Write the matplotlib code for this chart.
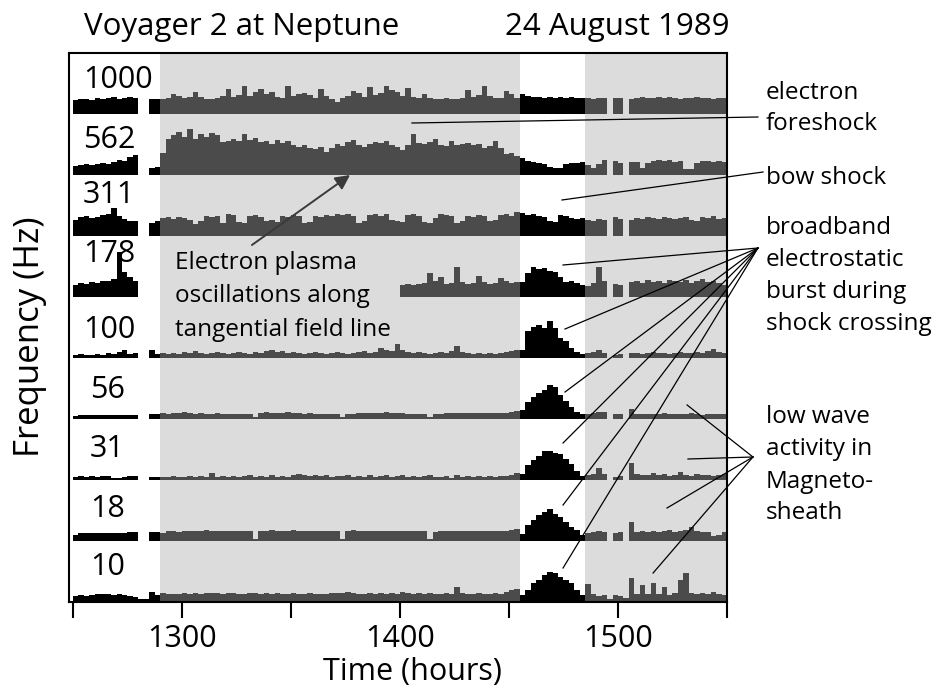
import numpy as np
import matplotlib
matplotlib.use("Agg")
from matplotlib import pyplot as plt

nan = np.nan

# time grid of the strips: 2.5 hour bins from 1250 to 1550
T_START = 1250.0
BIN_H = 2.5

# regions of the plot (hours)
SHADE_SPANS = [(1290, 1455), (1485, 1550)]

channel_labels = ["1000", "562", "311", "178", "100", "56", "31", "18", "10"]

# wave amplitude per bin for each channel (arbitrary units)
ch_1000 = [14, 15, 15, 14, 16, 15, 16, 17, 15, 16, 17, 16,
           nan, nan, 15, 15,
           15, 16, 20, 18, 16, 17, 22, 17, 15, 15,
           16, 18, 25, 17, 19, 28, 18, 22, 25, 20,
           22, 17, 16, 28, 18, 20, 21, 19, 16, 25,
           18, 15, 12, 16, 18, 23, 21, 17, 27, 19,
           21, 28, 24, 22, 18, 26, 17, 16, 20, 16,
           15, 15, 16, 15, 15, 16, 24, 17, 19, 28,
           18, 16, 16, 23, 20, 16,
           20, 18, 17, 17, 16, 17, 16, 17, 16, 17, 16, 16,
           16, 15, 16, 16, nan, 16, 16, nan,
           15, 16, 17, 16, 16, 17, 16, 17, 16, 15, 16, 16, 17, 16, 16, 15, 16, 16]

ch_562 = [9, 10, 11, 10, 11, 12, 11, 13, 15, 14, 18, 20,
          nan, nan, 7, 8,
          22, 36, 40, 43, 38, 46, 36, 41, 38, 42,
          40, 33, 34, 36, 34, 41, 35, 37, 33, 34,
          31, 35, 32, 34, 30, 28, 30, 27, 26, 28,
          23, 27, 31, 29, 33, 35, 30, 28, 31, 33,
          32, 34, 30, 28, 25, 30, 41, 32, 31, 33,
          36, 30, 29, 34, 30, 31, 32, 30, 31, 27,
          29, 34, 27, 21, 22, 19,
          17, 14, 13, 12, 11, 8, 7, 7, 11, 12, 12, 13,
          10, 7, 11, 15, nan, 14, 12, nan,
          13, 13, 7, 12, 14, 15, 14, 15, 13, 14, 6, 6, 12, 14, 14, 13, 14, 13]

ch_311 = [16, 19, 20, 18, 19, 21, 22, 28, 20, 17, 15, 15,
          nan, nan, 13, 15,
          18, 19, 17, 19, 18, 16, 12, 15, 20, 19,
          20, 13, 22, 21, 14, 13, 20, 21, 19, 15,
          16, 14, 20, 19, 21, 20, 13, 14, 20, 19,
          21, 20, 22, 21, 22, 20, 13, 15, 21, 22,
          20, 22, 16, 15, 14, 21, 22, 20, 14, 13,
          18, 22, 21, 20, 13, 15, 20, 19, 21, 20,
          15, 16, 21, 22, 20, 24,
          23, 21, 22, 20, 19, 15, 14, 21, 20, 18, 17, 18,
          16, 15, 17, 16, nan, 19, 17, nan,
          16, 18, 17, 19, 18, 17, 19, 18, 17, 18, 19, 16, 15, 19, 18, 20, 17, 18]

ch_178 = [12, 14, 13, 15, 14, 16, 16, 18, 45, 25, 20, 16,
          nan, nan, nan, nan] + [nan] * 44 + [
          12, 13, 12, 13, 14, 24, 16, 20, 13, 14,
          30, 15, 13, 14, 21, 15, 13, 14, 19, 16,
          14, 15,
          15, 24, 30, 28, 29, 26, 25, 20, 15, 16, 14, 12,
          11, 14, 30, 16, nan, 13, 12, nan,
          15, 16, 14, 17, 15, 16, 14, 17, 16, 15, 17, 14, 16, 18, 15, 16, 14, 12]

ch_100 = [3, 4, 3, 3, 4, 3, 5, 4, 6, 8, 4, 5,
          nan, nan, 8, 4,
          5, 4, 5, 4, 6, 5, 7, 5, 4, 5,
          6, 5, 4, 5, 6, 5, 4, 6, 5, 7,
          8, 6, 7, 5, 6, 5, 4, 5, 6, 5,
          4, 5, 6, 5, 4, 5, 6, 7, 5, 6,
          10, 8, 7, 14, 8, 6, 5, 6, 5, 4,
          5, 6, 5, 7, 12, 6, 5, 4, 5, 4,
          5, 4, 5, 6, 7, 8,
          8, 27, 31, 33, 30, 37, 30, 20, 17, 10, 6, 4,
          5, 6, 8, 5, nan, 3, 4, nan,
          5, 5, 4, 5, 6, 5, 5, 4, 5, 6, 5, 5, 6, 5, 7, 9, 6, 5]

ch_56 = [3, 4, 4, 4, 4, 4, 4, 4, 4, 4, 4, 4,
         nan, nan, 5, 5,
         6, 5, 6, 6, 7, 6, 5, 6, 5, 5,
         6, 5, 5, 5, 5, 5, 5, 2, 6, 7,
         6, 6, 6, 7, 6, 6, 5, 6, 5, 5,
         5, 5, 5, 2, 5, 5, 6, 6, 6, 6,
         6, 7, 6, 6, 6, 5, 5, 5, 5, 2,
         5, 5, 6, 6, 6, 6, 6, 6, 6, 6,
         6, 6, 6, 6, 7, 8,
         9, 17, 22, 26, 29, 34, 32, 24, 18, 12, 7, 5,
         5, 6, 7, 7, nan, 5, 5, nan,
         10, 5, 5, 5, 5, 5, 6, 5, 5, 5, 5, 6, 5, 4, 5, 5, 5, 5]

ch_31 = [3, 4, 3, 4, 3, 4, 4, 2, 2, 3, 4, 4,
         nan, nan, 3, 3,
         3, 3, 4, 3, 3, 4, 3, 4, 3, 7,
         3, 4, 3, 4, 3, 4, 5, 3, 4, 3,
         5, 3, 4, 3, 5, 6, 5, 4, 5, 4,
         5, 3, 4, 4, 5, 3, 4, 3, 5, 3,
         4, 5, 3, 4, 5, 3, 4, 3, 4, 5,
         3, 3, 4, 2, 5, 3, 4, 3, 4, 3,
         4, 3, 4, 4, 5, 7,
         6, 15, 20, 24, 29, 29, 27, 26, 21, 16, 9, 4,
         5, 6, 12, 6, nan, 3, 4, nan,
         17, 6, 5, 5, 7, 5, 6, 4, 5, 8, 5, 4, 6, 5, 5, 4, 5, 6]

ch_18 = [6, 8, 8, 8, 8, 8, 8, 8, 8, 8, 9, 9,
         nan, nan, 9, 9,
         8, 10, 10, 9, 10, 10, 10, 10, 11, 10,
         10, 10, 10, 10, 10, 10, 10, 2, 10, 10,
         11, 10, 10, 10, 11, 10, 10, 10, 10, 10,
         10, 10, 10, 2, 10, 11, 10, 10, 10, 10,
         10, 10, 10, 10, 10, 10, 10, 10, 10, 2,
         9, 10, 10, 10, 10, 10, 10, 10, 10, 10,
         10, 10, 10, 10, 11, 12,
         7, 16, 21, 26, 29, 32, 27, 24, 19, 14, 11, 6,
         8, 9, 10, 9, nan, 8, 9, nan,
         19, 9, 10, 9, 10, 9, 10, 11, 9, 10, 11, 14, 10, 9, 9, 5, 6, 9]

ch_10 = [6, 7, 6, 7, 8, 8, 8, 7, 8, 7, 6, 5,
         3, 3, 10, 7,
         9, 8, 8, 8, 9, 8, 9, 8, 9, 9,
         9, 8, 9, 9, 8, 8, 9, 9, 8, 9,
         8, 9, 8, 8, 9, 8, 8, 9, 8, 8,
         8, 9, 9, 9, 10, 9, 8, 8, 9, 8,
         9, 8, 9, 8, 10, 9, 8, 9, 8, 9,
         8, 8, 9, 8, 15, 9, 8, 8, 9, 8,
         8, 9, 8, 10, 12, 13,
         7, 12, 19, 22, 27, 30, 29, 25, 22, 19, 12, 7,
         18, 8, 6, 7, 3, 7, 6, 4,
         24, 8, 17, 8, 19, 8, 15, 7, 9, 22, 29, 9, 8, 9, 8, 10, 8, 7]

channels = [ch_1000, ch_562, ch_311, ch_178, ch_100, ch_56, ch_31, ch_18, ch_10]

# annotation leader lines (hours, strip units)
foreshock_line = [(1405.5, 479), (1564.2, 485)]
bowshock_line = [(1474.3, 402), (1566.5, 430)]
burst_hub = (1564.2, 354)
burst_ends = [(1474.8, 337), (1475.7, 273), (1475.7, 210),
              (1474.8, 159), (1474.8, 97), (1474.8, 34)]
sheath_hub = (1561.9, 145)
sheath_ends = [(1531.7, 197), (1532.1, 143), (1522.5, 94), (1516.1, 29)]

ROW_STEP = 61
LABEL_RAISE = [26, 27, 33, 35, 20, 21, 23, 24, 27]
GRAY_STRIP = "#4b4b4b"
SHADE = "#dcdcdc"

plt.rcParams["font.family"] = ["Open Sans", "DejaVu Sans"]

fig = plt.figure(figsize=(9.38, 6.94), dpi=100)
ax = fig.add_axes([69 / 938, 1 - 602 / 694, (727 - 69) / 938, (602 - 53) / 694])

for a, b in SHADE_SPANS:
    ax.axvspan(a, b, color=SHADE, lw=0, zorder=0)

n_bins = len(ch_1000)
edges = T_START + BIN_H * np.arange(n_bins + 1)
mids = edges[:-1] + BIN_H / 2
shaded = np.zeros(n_bins, dtype=bool)
for a, b in SHADE_SPANS:
    shaded |= (mids > a) & (mids < b)

n_ch = len(channels)
for k, (lbl, vals) in enumerate(zip(channel_labels, channels)):
    base = (n_ch - 1 - k) * ROW_STEP
    vals = np.asarray(vals, dtype=float)
    i = 0
    while i < n_bins:
        if np.isnan(vals[i]):
            i += 1
            continue
        j = i
        while j < n_bins and not np.isnan(vals[j]) and shaded[j] == shaded[i]:
            j += 1
        col = GRAY_STRIP if shaded[i] else "black"
        ax.stairs(base + vals[i:j], edges[i:j + 1], baseline=base, fill=True,
                  color=col, lw=0, zorder=2)
        i = j
    x_lbl = 1254.6 if len(lbl) > 2 else 1257.8
    ax.text(x_lbl, base + LABEL_RAISE[k], lbl, fontsize=22, ha="left",
            va="baseline", zorder=3)

ax.set_xlim(1248.2, 1550)
ax.set_ylim(0, 549)
ax.set_yticks([])
ax.set_xticks([1250, 1300, 1350, 1400, 1450, 1500, 1550])
ax.set_xticklabels(["", "1300", "", "1400", "", "1500", ""])
ax.tick_params(axis="x", direction="out", length=11.5, width=1.5,
               labelsize=22, pad=4)
for sp in ax.spines.values():
    sp.set_linewidth(1.5)

# annotations
ax.text(1296.8, 339, "Electron plasma", fontsize=17.5, va="center", zorder=3)
ax.text(1296.8, 306, "oscillations along", fontsize=17.5, va="center", zorder=3)
ax.text(1296.8, 272, "tangential field line", fontsize=17.5, va="center", zorder=3)
ax.annotate("", xy=(1377.1, 427), xytext=(1332.1, 357),
            arrowprops=dict(arrowstyle="-|>", color="#3a3a3a", lw=1.4,
                            mutation_scale=22, shrinkA=0, shrinkB=0), zorder=4)

line_kw = dict(color="black", lw=0.9, clip_on=False, zorder=4)
ax.plot(*zip(*foreshock_line), **line_kw)
ax.plot(*zip(*bowshock_line), **line_kw)
for end in burst_ends:
    ax.plot([end[0], burst_hub[0]], [end[1], burst_hub[1]], **line_kw)
for end in sheath_ends:
    ax.plot([end[0], sheath_hub[0]], [end[1], sheath_hub[1]], **line_kw)

x_note = 1567.9
notes = [("electron", 509), ("foreshock", 478), ("bow shock", 424),
         ("broadband", 374), ("electrostatic", 342), ("burst during", 310),
         ("shock crossing", 278), ("low wave", 185), ("activity in", 153),
         ("Magneto-", 120), ("sheath", 89)]
for txt, y in notes:
    ax.text(x_note, y, txt, fontsize=17.5, va="center", ha="left")

fig.text(84 / 938, 1 - 27 / 694, "Voyager 2 at Neptune", fontsize=22.5,
         ha="left", va="center")
fig.text(729 / 938, 1 - 27 / 694, "24 August 1989", fontsize=22.5,
         ha="right", va="center")
fig.text(412 / 938, 1 - 672 / 694, "Time (hours)", fontsize=22,
         ha="center", va="center")
fig.text(30 / 938, 1 - 337 / 694, "Frequency (Hz)", fontsize=25,
         ha="center", va="center", rotation=90)

fig.savefig("out.png", dpi=100)
